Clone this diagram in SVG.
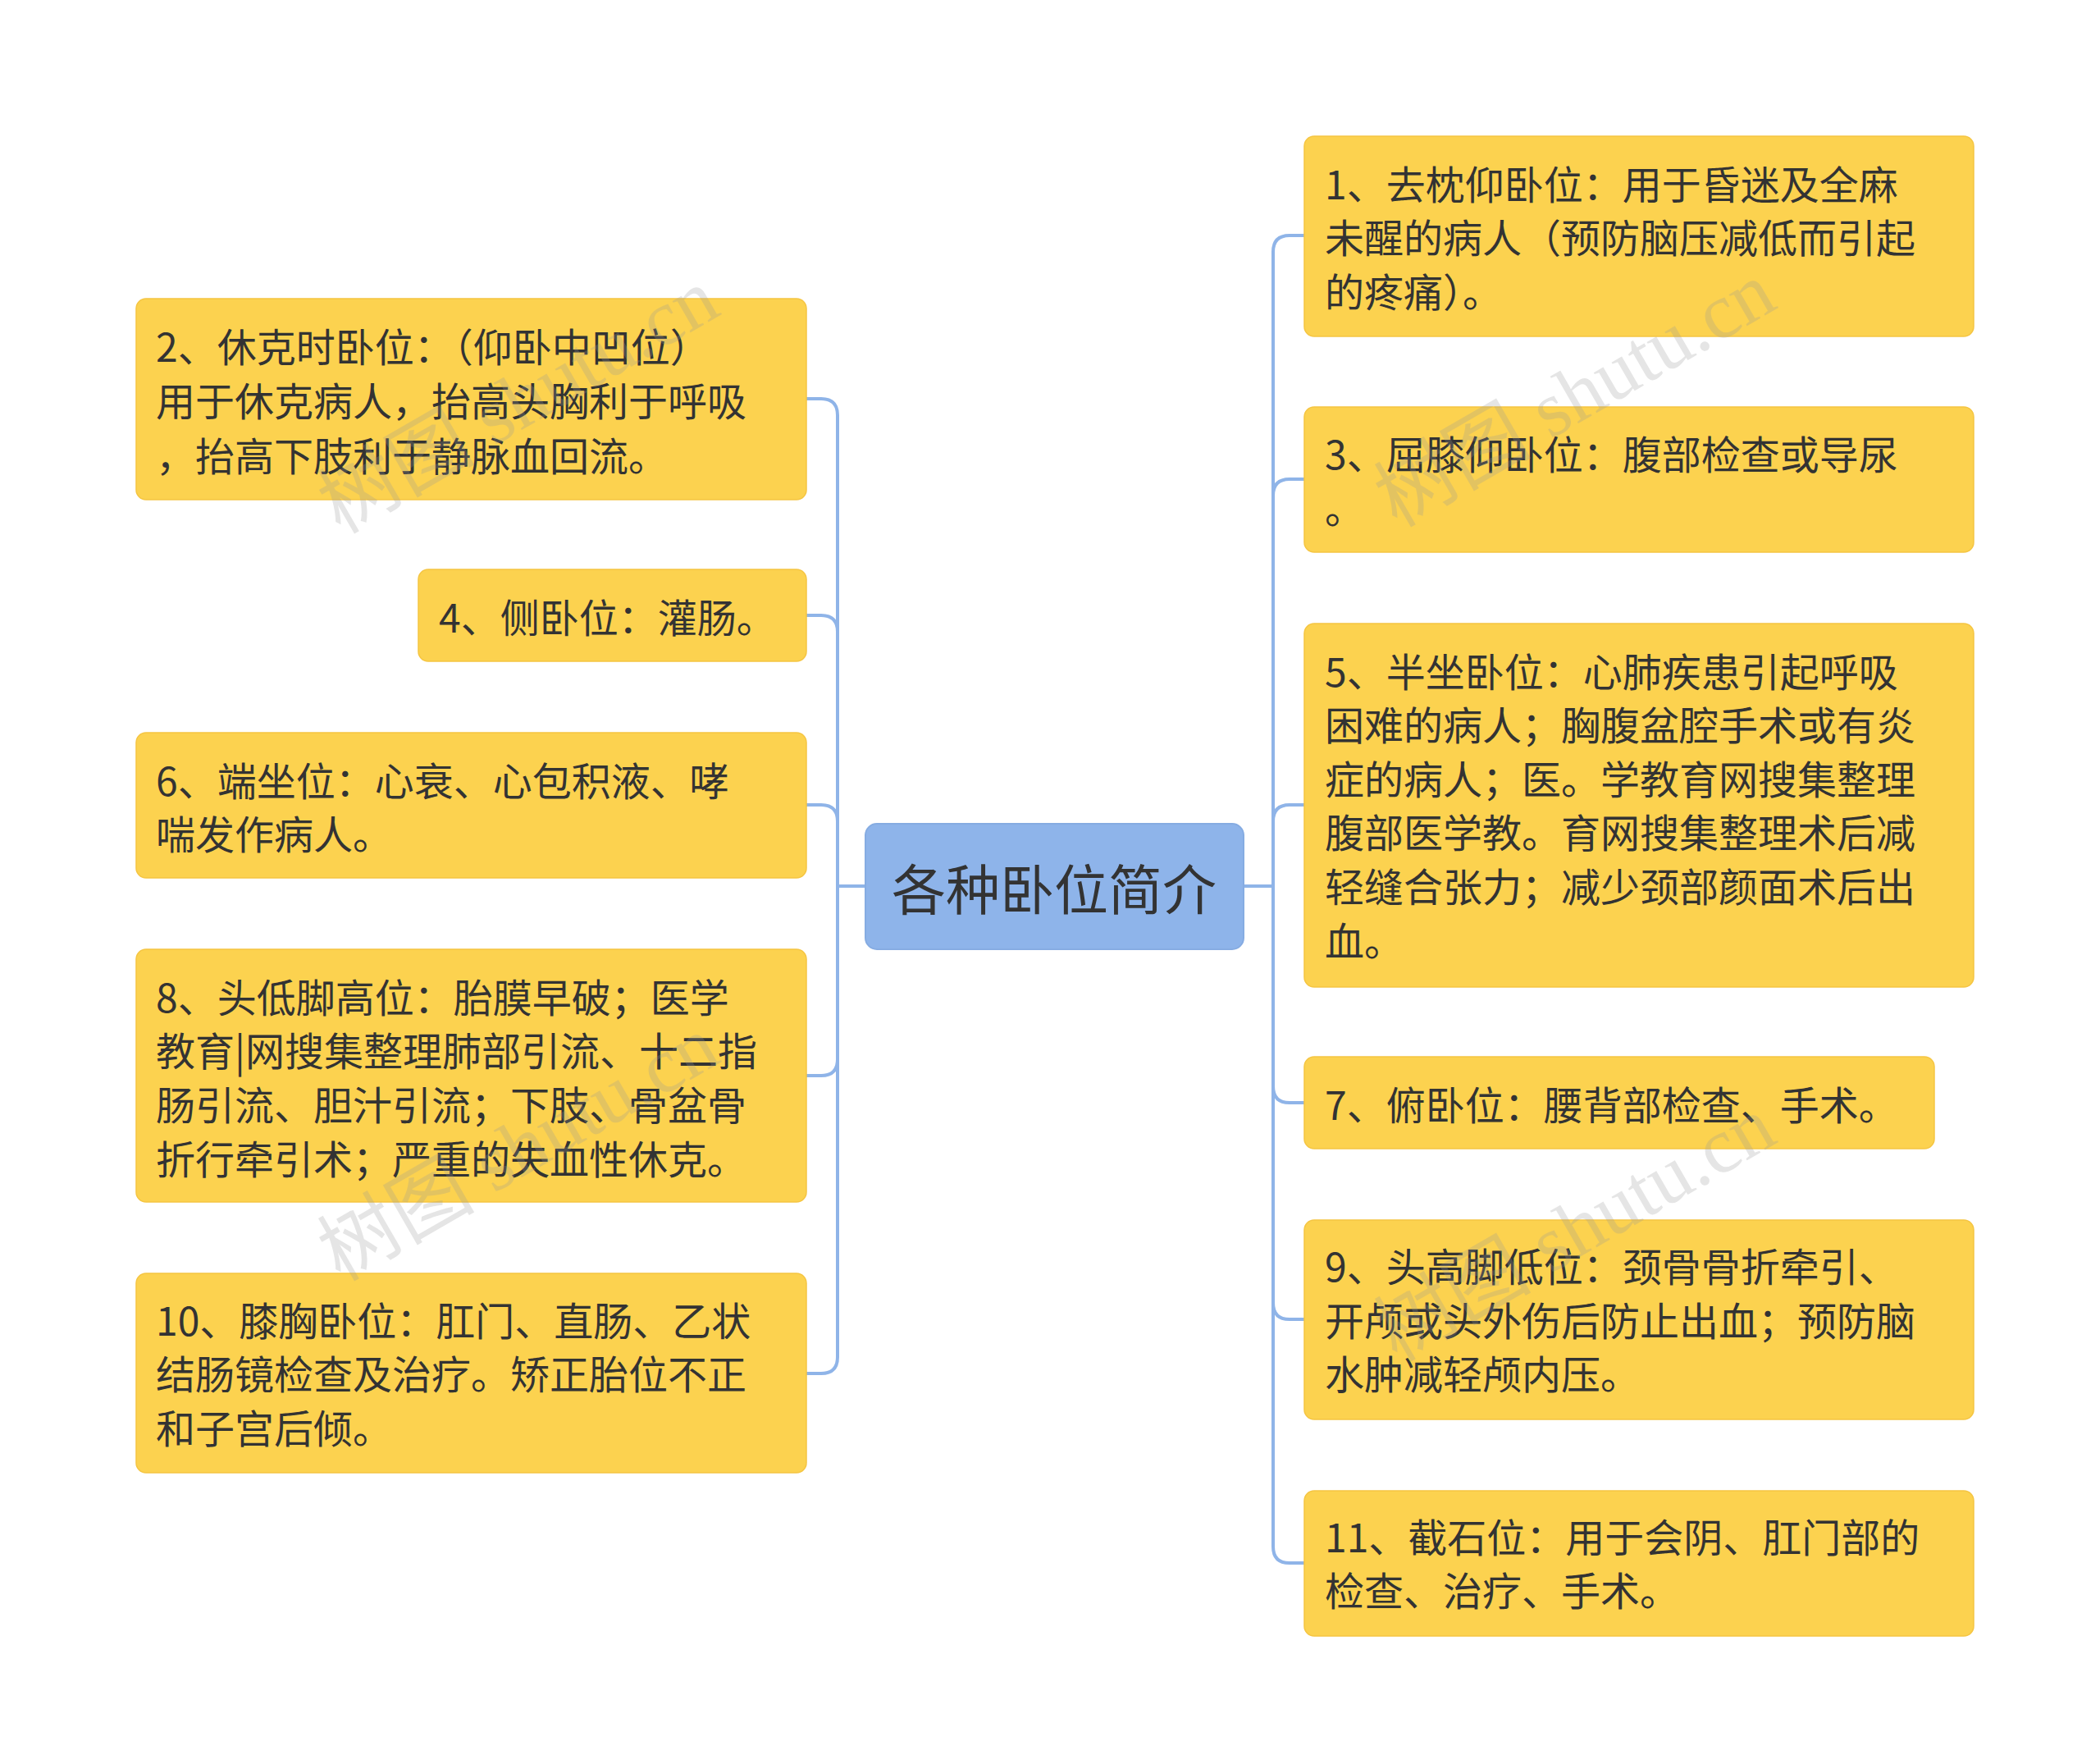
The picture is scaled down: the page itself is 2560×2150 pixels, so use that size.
<svg xmlns="http://www.w3.org/2000/svg" width="2560" height="2150" viewBox="0 0 2560 2150">
<style>
.b{fill:#FCD24F;stroke:#F5C542;stroke-width:1.5}
.t{font-family:"Noto Sans CJK SC","Noto Sans",sans-serif;font-size:48px;fill:#333}
.c{fill:none;stroke:#8FB4E8;stroke-width:4}
.w{font-family:"Liberation Serif","Noto Sans CJK SC",serif;font-size:96px;fill:#999;opacity:0.25}
</style>
<rect width="2560" height="2150" fill="#fff"/>
<g id="connectors">
<path class="c" d="M1055 1080 H1021 M1021 1080 V506 Q1021 486 1001 486 H983 M1021 1080 V770 Q1021 750 1001 750 H983 M1021 1080 V1001 Q1021 981 1001 981 H983 M1021 1080 V1291 Q1021 1311 1001 1311 H983 M1021 1080 V1654 Q1021 1674 1001 1674 H983"/>
<path class="c" d="M1516 1080 H1552 M1552 1080 V307 Q1552 287 1572 287 H1590 M1552 1080 V604 Q1552 584 1572 584 H1590 M1552 1080 V1001 Q1552 981 1572 981 H1590 M1552 1080 V1324 Q1552 1344 1572 1344 H1590 M1552 1080 V1588 Q1552 1608 1572 1608 H1590 M1552 1080 V1885 Q1552 1905 1572 1905 H1590"/>
</g>
<g id="root"><rect x="1055" y="1004" width="461" height="153" rx="14" fill="#8EB4EA" stroke="#86ACE2" stroke-width="2"/>
<text x="1285" y="1080" font-family="Noto Sans CJK SC,sans-serif" font-size="66" fill="#333" text-anchor="middle" dominant-baseline="central">各种卧位简介</text></g>
<g id="n2"><rect class="b" x="166" y="364" width="817" height="245" rx="12"/>
<text class="t" dominant-baseline="central"><tspan x="190" y="420">2、休克时卧位：（仰卧中凹位）</tspan><tspan x="190" y="486">用于休克病人，抬高头胸利于呼吸</tspan><tspan x="190" y="553">，抬高下肢利于静脉血回流。</tspan></text></g>
<g id="n4"><rect class="b" x="510" y="694" width="473" height="112" rx="12"/>
<text class="t" dominant-baseline="central" x="535" y="750">4、侧卧位：灌肠。</text></g>
<g id="n6"><rect class="b" x="166" y="893" width="817" height="177" rx="12"/>
<text class="t" dominant-baseline="central"><tspan x="190" y="949">6、端坐位：心衰、心包积液、哮</tspan><tspan x="190" y="1014">喘发作病人。</tspan></text></g>
<g id="n8"><rect class="b" x="166" y="1157" width="817" height="308" rx="12"/>
<text class="t" dominant-baseline="central"><tspan x="190" y="1213">8、头低脚高位：胎膜早破；医学</tspan><tspan x="190" y="1278">教育|网搜集整理肺部引流、十二指</tspan><tspan x="190" y="1344">肠引流、胆汁引流；下肢、骨盆骨</tspan><tspan x="190" y="1410">折行牵引术；严重的失血性休克。</tspan></text></g>
<g id="n10"><rect class="b" x="166" y="1552" width="817" height="243" rx="12"/>
<text class="t" dominant-baseline="central"><tspan x="190" y="1607">10、膝胸卧位：肛门、直肠、乙状</tspan><tspan x="190" y="1672">结肠镜检查及治疗。矫正胎位不正</tspan><tspan x="190" y="1738">和子宫后倾。</tspan></text></g>
<g id="n1"><rect class="b" x="1590" y="166" width="816" height="244" rx="12"/>
<text class="t" dominant-baseline="central"><tspan x="1615" y="222">1、去枕仰卧位：用于昏迷及全麻</tspan><tspan x="1615" y="287">未醒的病人（预防脑压减低而引起</tspan><tspan x="1615" y="353">的疼痛）。</tspan></text></g>
<g id="n3"><rect class="b" x="1590" y="496" width="816" height="177" rx="12"/>
<text class="t" dominant-baseline="central"><tspan x="1615" y="551">3、屈膝仰卧位：腹部检查或导尿</tspan><tspan x="1615" y="617">。</tspan></text></g>
<g id="n5"><rect class="b" x="1590" y="760" width="816" height="443" rx="12"/>
<text class="t" dominant-baseline="central"><tspan x="1615" y="816">5、半坐卧位：心肺疾患引起呼吸</tspan><tspan x="1615" y="881">困难的病人；胸腹盆腔手术或有炎</tspan><tspan x="1615" y="947">症的病人；医。学教育网搜集整理</tspan><tspan x="1615" y="1012">腹部医学教。育网搜集整理术后减</tspan><tspan x="1615" y="1078">轻缝合张力；减少颈部颜面术后出</tspan><tspan x="1615" y="1144">血。</tspan></text></g>
<g id="n7"><rect class="b" x="1590" y="1288" width="768" height="112" rx="12"/>
<text class="t" dominant-baseline="central" x="1615" y="1344">7、俯卧位：腰背部检查、手术。</text></g>
<g id="n9"><rect class="b" x="1590" y="1487" width="816" height="243" rx="12"/>
<text class="t" dominant-baseline="central"><tspan x="1615" y="1541">9、头高脚低位：颈骨骨折牵引、</tspan><tspan x="1615" y="1607">开颅或头外伤后防止出血；预防脑</tspan><tspan x="1615" y="1672">水肿减轻颅内压。</tspan></text></g>
<g id="n11"><rect class="b" x="1590" y="1817" width="816" height="177" rx="12"/>
<text class="t" dominant-baseline="central"><tspan x="1615" y="1871">11、截石位：用于会阴、肛门部的</tspan><tspan x="1615" y="1936">检查、治疗、手术。</tspan></text></g>
<g id="watermarks">
<text class="w" text-anchor="middle" transform="translate(648,517) rotate(-30)">树图 shutu.cn</text>
<text class="w" text-anchor="middle" transform="translate(1936,509) rotate(-30)">树图 shutu.cn</text>
<text class="w" text-anchor="middle" transform="translate(648,1428) rotate(-30)">树图 shutu.cn</text>
<text class="w" text-anchor="middle" transform="translate(1936,1526) rotate(-30)">树图 shutu.cn</text>
</g>
</svg>
